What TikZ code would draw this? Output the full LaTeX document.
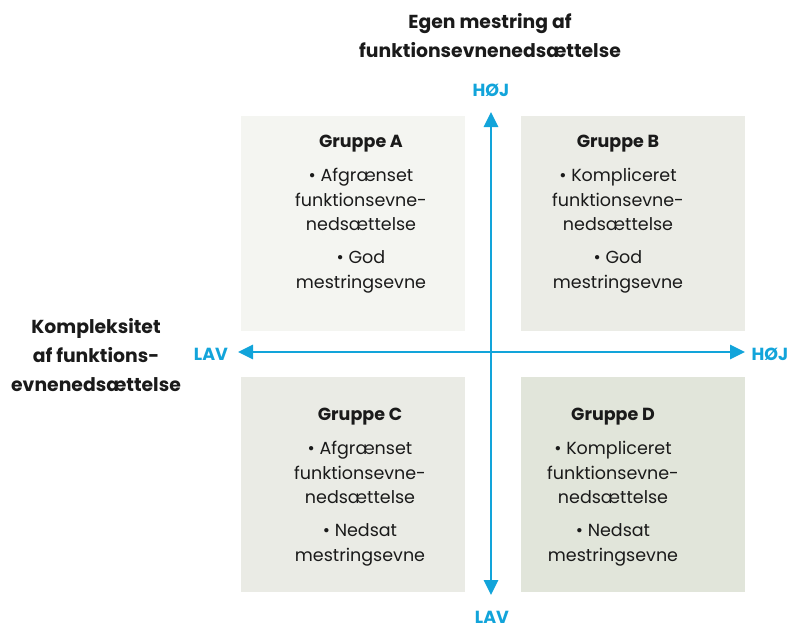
\documentclass[tikz,border=0pt]{standalone}
\usepackage{fontspec}
\setmainfont{Poppins}
\usetikzlibrary{arrows.meta}
\definecolor{axisblue}{HTML}{12A4DA}
\definecolor{fillA}{HTML}{F4F5F1}
\definecolor{fillB}{HTML}{EBECE6}
\definecolor{fillC}{HTML}{EAEBE5}
\definecolor{fillD}{HTML}{E1E5DA}
\definecolor{txt}{HTML}{1A1A1A}
\tikzset{
  quad/.style={rectangle, minimum width=224pt, minimum height=215pt, inner sep=0pt, anchor=north west, draw=none},
  quadtext/.style={anchor=north, align=center, font=\fontsize{17.5}{24.5}\selectfont, text=txt, inner sep=0pt},
  axislabel/.style={font=\fontsize{17.5}{20}\selectfont\bfseries, text=axisblue, inner sep=0pt},
  axisline/.style={draw=axisblue, line width=2.8pt, {Triangle[length=15pt,width=14pt]}-{Triangle[length=15pt,width=14pt]}},
  headtext/.style={align=center, font=\fontsize{18.8}{29}\selectfont\bfseries, text=txt, inner sep=0pt}
}
\begin{document}
\begin{tikzpicture}[x=1pt,y=-1pt]
\useasboundingbox (0,0) rectangle (791,626);
\node[quad, fill=fillA] (qa) at (241,116) {};
\node[quad, fill=fillB] (qb) at (521,116) {};
\node[quad, fill=fillC] (qc) at (241,377) {};
\node[quad, fill=fillD] (qd) at (521,377) {};

\node[quadtext] (ta) at (361,135) {\textbf{Gruppe A}\\[9.5pt] • Afgrænset\\ funktionsevne-\\ nedsættelse\\[8.5pt] • God\\ mestringsevne};
\node[quadtext] (tb) at (618,135) {\textbf{Gruppe B}\\[9.5pt] • Kompliceret\\ funktionsevne-\\ nedsættelse\\[8.5pt] • God\\ mestringsevne};
\node[quadtext] (tc) at (360,408) {\textbf{Gruppe C}\\[9.5pt] • Afgrænset\\ funktionsevne-\\ nedsættelse\\[8.5pt] • Nedsat\\ mestringsevne};
\node[quadtext] (td) at (613,408) {\textbf{Gruppe D}\\[9.5pt] • Kompliceret\\ funktionsevne-\\ nedsættelse\\[8.5pt] • Nedsat\\ mestringsevne};

\coordinate (vtop) at (491,112);
\coordinate (vbot) at (491,595);
\coordinate (hleft) at (238,352);
\coordinate (hright) at (745,352);
\draw[axisline] (vbot) -- (vtop);
\draw[axisline] (hleft) -- (hright);

\node[axislabel] (hojtop) at (491,90) {HØJ};
\node[axislabel] (lavbot) at (492,617) {LAV};
\node[axislabel] (lavleft) at (211,354) {LAV};
\node[axislabel] (hojright) at (770,354) {HØJ};

\node[headtext] (title) at (490,36) {Egen mestring af\\ funktionsevnenedsættelse};
\node[headtext] (xlabel) at (96,355) {Kompleksitet\\ af funktions-\\ evnenedsættelse};
\end{tikzpicture}
\end{document}
